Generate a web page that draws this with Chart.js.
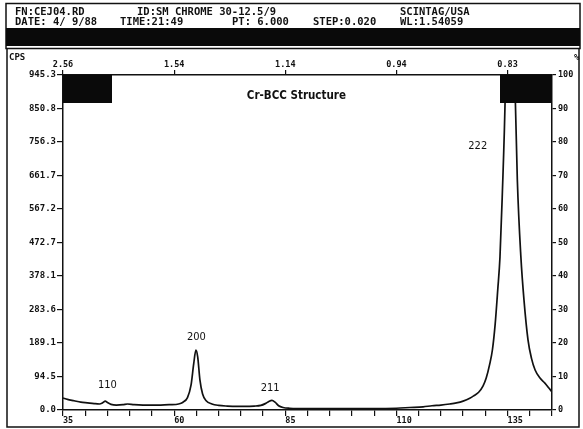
<!DOCTYPE html>
<html>
<head>
<meta charset="utf-8">
<script src="https://cdn.jsdelivr.net/npm/chart.js@4"></script>
<style>
  body { margin: 0; background: #fff; }
  #wrap { width: 583px; height: 429px; }
</style>
</head>
<body>
<div id="wrap"><canvas id="xrd-chart" width="583" height="429"></canvas></div>
<script>
// scan data: 2-theta (deg) and counts per second
const twoTheta = [35.0, 36.0, 37.5, 39.0, 40.5, 42.0, 43.2, 44.0, 44.5, 45.0, 45.8, 47.0, 48.5, 49.5, 51.0,
  53.0, 55.0, 57.0, 59.0, 61.0, 62.0, 63.0, 63.8, 64.4, 64.9, 65.3, 65.8, 66.4, 67.2, 68.5,
  70.0, 72.0, 74.0, 76.0, 78.0, 79.5, 80.5, 81.3, 82.0, 82.7, 83.5, 84.5, 86.0, 90.0, 95.0,
  100.0, 105.0, 110.0, 113.0, 116.0, 118.0, 120.0, 122.0, 123.5, 125.0, 126.5, 127.5, 128.5, 129.5,
  130.2, 131.0, 131.6, 132.2, 132.8, 133.3, 133.8, 134.5, 135.0, 135.6, 136.2, 136.7, 137.2, 138.0,
  138.7, 139.6, 140.4, 141.2, 142.3, 143.4, 144.3, 145.0]
const counts = [34, 30, 26, 22, 20, 18, 17, 21, 25, 21, 16, 14, 15, 17, 15,
  14, 14, 14, 15, 17, 22, 35, 70, 130, 169, 150, 85, 45, 26, 17,
  13, 11, 10, 10, 11, 13, 18, 24, 27, 22, 12, 7, 5, 4, 4,
  4, 4, 5, 7, 9, 12, 14, 17, 20, 25, 33, 41, 50, 68,
  90, 130, 170, 240, 340, 432, 600, 900, 1300, 1690, 1300, 900, 650, 432,
  310, 198, 145, 113, 90, 76, 62, 51]

const cpsTicks = [0.0, 94.5, 189.1, 283.6, 378.1, 472.7, 567.2, 661.7, 756.3, 850.8, 945.3]
const pctTicks = [0, 10, 20, 30, 40, 50, 60, 70, 80, 90, 100]
const angleLabels = [35, 60, 85, 110, 135]
const wavelength = 1.54059

const peakNames = ['110', '200', '211', '222']
const peakAngles = [45.0, 65.0, 81.6, 128.3]
const peakLabelCps = [71, 205, 62, 745]

const headerLine1 = [['FN:CEJ04.RD', 15], ['ID:SM CHROME 30-12.5/9', 137], ['SCINTAG/USA', 400]]
const headerLine2 = [['DATE: 4/ 9/88', 15], ['TIME:21:49', 120], ['PT: 6.000', 232], ['STEP:0.020', 313], ['WL:1.54059', 400]]

const ink = '#111'
const mono = 'DejaVu Sans Mono'
const narrow = '"Liberation Sans Narrow", "DejaVu Sans Condensed", sans-serif'

const dSpacing = function (tt) {
  return (wavelength / (2 * Math.sin(tt / 2 * Math.PI / 180))).toFixed(2)
}

const sheet = {
  id: 'sheet',
  beforeDraw (chart) {
    const c = chart.ctx
    c.save()
    c.fillStyle = '#fff'
    c.fillRect(0, 0, chart.width, chart.height)
    c.strokeStyle = ink
    c.lineWidth = 1.5
    // header box + black band
    c.strokeRect(6, 3.5, 574, 45)
    c.fillStyle = '#0a0a0a'
    c.fillRect(6, 28, 574, 18)
    // outer frame of the plot sheet
    c.beginPath()
    c.moveTo(7, 48)
    c.lineTo(7, 427)
    c.lineTo(579, 427)
    c.lineTo(579, 48)
    c.stroke()
    c.fillStyle = ink
    c.font = 'bold 10.5px ' + mono
    c.textBaseline = 'middle'
    headerLine1.forEach(([t, x]) => c.fillText(t, x, 12.5))
    headerLine2.forEach(([t, x]) => c.fillText(t, x, 22.5))
    c.font = 'bold 9px ' + mono
    c.fillText('CPS', 9, 58)
    c.fillText('%', 574, 58)
    c.restore()
  },
  afterDatasetsDraw (chart) {
    const c = chart.ctx
    const a = chart.chartArea
    const xs = chart.scales.x
    const ys = chart.scales.y
    c.save()
    c.fillStyle = '#0a0a0a'
    c.fillRect(a.left, a.top, 49, 28)
    c.fillRect(a.right - 52, a.top, 52, 28)
    c.fillStyle = ink
    c.textAlign = 'center'
    c.textBaseline = 'middle'
    c.font = 'bold 11.5px ' + narrow
    c.fillText('Cr-BCC Structure', xs.getPixelForValue(87.5), ys.getPixelForValue(885))
    c.font = '11px ' + narrow
    peakNames.forEach((n, i) => {
      c.fillText(n, xs.getPixelForValue(peakAngles[i]), ys.getPixelForValue(peakLabelCps[i]))
    })
    c.restore()
  }
}

const axisFont = { family: mono, size: 8.5, weight: 'bold' }

const config = {
  type: 'line',
  data: {
    datasets: [{
      data: twoTheta.map((t, i) => ({ x: t, y: counts[i] })),
      borderColor: ink,
      borderWidth: 1.7,
      pointRadius: 0,
      cubicInterpolationMode: 'monotone',
      fill: false
    }]
  },
  options: {
    responsive: false,
    animation: false,
    layout: { padding: 0 },
    plugins: {
      legend: { display: false },
      tooltip: { enabled: false }
    },
    scales: {
      x: {
        type: 'linear',
        position: 'bottom',
        min: 35,
        max: 145,
        afterBuildTicks: s => {
          const t = []
          for (let v = 35; v <= 145; v += 5) t.push({ value: v })
          s.ticks = t
        },
        afterFit: s => { s.height = 19 },
        ticks: {
          autoSkip: false,
          maxRotation: 0,
          align: 'start',
          padding: 0,
          color: ink,
          font: axisFont,
          callback: v => angleLabels.includes(v) ? String(v) : ''
        },
        grid: { drawOnChartArea: false, tickLength: 6, color: ink, lineWidth: 1.2 },
        border: { color: ink, width: 1.5 }
      },
      xTop: {
        type: 'linear',
        position: 'top',
        min: 35,
        max: 145,
        afterBuildTicks: s => { s.ticks = angleLabels.map(v => ({ value: v })) },
        afterFit: s => { s.height = 75 },
        ticks: {
          autoSkip: false,
          maxRotation: 0,
          padding: 0,
          color: ink,
          font: axisFont,
          callback: v => dSpacing(v)
        },
        grid: { drawOnChartArea: false, tickLength: 5, color: ink, lineWidth: 1.2 },
        border: { color: ink, width: 1.5 }
      },
      y: {
        position: 'left',
        min: 0,
        max: 945.3,
        afterBuildTicks: s => { s.ticks = cpsTicks.map(v => ({ value: v })) },
        afterFit: s => { s.width = 63 },
        ticks: {
          autoSkip: false,
          padding: 1,
          color: ink,
          font: { family: mono, size: 9, weight: 'bold' },
          callback: v => v.toFixed(1)
        },
        grid: { drawOnChartArea: false, tickLength: 6, color: ink, lineWidth: 1.2 },
        border: { color: ink, width: 1.5 }
      },
      y2: {
        position: 'right',
        min: 0,
        max: 100,
        afterBuildTicks: s => { s.ticks = pctTicks.map(v => ({ value: v })) },
        afterFit: s => { s.width = 31 },
        ticks: {
          autoSkip: false,
          padding: 2,
          color: ink,
          font: axisFont
        },
        grid: { drawOnChartArea: false, tickLength: 4, color: ink, lineWidth: 1.2 },
        border: { color: ink, width: 1.5 }
      }
    }
  },
  plugins: [sheet]
}

const xrdChart = new Chart(document.getElementById('xrd-chart'), config)
</script>
</body>
</html>
